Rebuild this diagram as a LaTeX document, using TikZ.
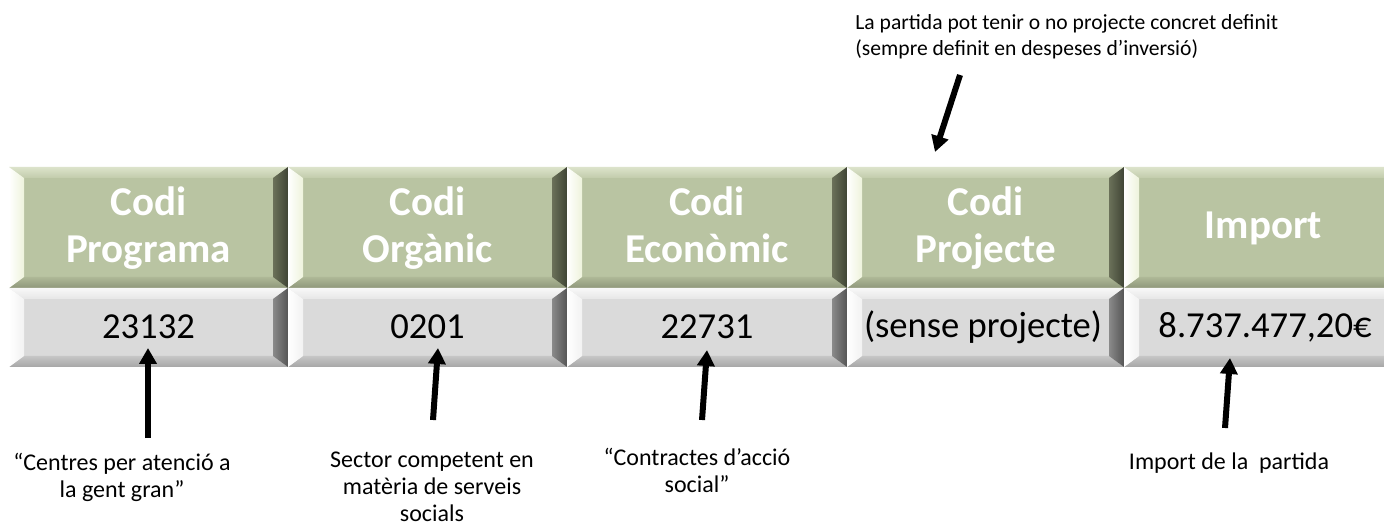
\documentclass[tikz,border=0pt]{standalone}
\usepackage{fontspec}
\setmainfont{Carlito}
\usetikzlibrary{arrows.meta}
% green scheme
\definecolor{gface}{HTML}{B9C4A2}
\definecolor{gtopA}{HTML}{DCE3CB}
\definecolor{gtopB}{HTML}{C2CCAB}
\definecolor{gbotA}{HTML}{AEB897}
\definecolor{gbotB}{HTML}{8F977A}
\definecolor{gleftA}{HTML}{FFFFFF}
\definecolor{gleftB}{HTML}{EEF3DC}
\definecolor{grightA}{HTML}{6B7159}
\definecolor{grightB}{HTML}{3F4435}
% silver scheme
\definecolor{sface}{HTML}{DADADA}
\definecolor{stopA}{HTML}{F8F8F8}
\definecolor{stopB}{HTML}{E6E6E6}
\definecolor{sbotA}{HTML}{C6C6C6}
\definecolor{sbotB}{HTML}{A6A6A6}
\definecolor{sleftA}{HTML}{FFFFFF}
\definecolor{sleftB}{HTML}{F2F2F2}
\definecolor{srightA}{HTML}{8A8A8A}
\definecolor{srightB}{HTML}{555555}
% bevelled box: x0, y0, x1, y1, scheme
\newcommand\mybevelbox[5]{%
  \pgfmathsetmacro\bvxa{#1+15}%
  \pgfmathsetmacro\bvxb{#3-15}%
  \pgfmathsetmacro\bvya{#2+11}%
  \pgfmathsetmacro\bvyb{#4-11}%
  \fill[#5face] (#1,#2) rectangle (#3,#4);
  \shade[top color=#5topA, bottom color=#5topB] (#1,#2) -- (#3,#2) -- (\bvxb,\bvya) -- (\bvxa,\bvya) -- cycle;
  \shade[top color=#5botA, bottom color=#5botB] (\bvxa,\bvyb) -- (\bvxb,\bvyb) -- (#3,#4) -- (#1,#4) -- cycle;
  \shade[left color=#5leftA, right color=#5leftB] (#1,#2) -- (\bvxa,\bvya) -- (\bvxa,\bvyb) -- (#1,#4) -- cycle;
  \shade[left color=#5rightA, right color=#5rightB] (\bvxb,\bvya) -- (#3,#2) -- (#3,#4) -- (\bvxb,\bvyb) -- cycle;
}
\begin{document}
\begin{tikzpicture}[x=0.5pt,y=-0.5pt,
  hdr/.style={text=white,font=\fontsize{20.5}{23.5}\selectfont\bfseries,align=center,inner sep=0},
  val/.style={text=black,font=\fontsize{18.3}{22}\selectfont,inner sep=0},
  note/.style={text=black,font=\fontsize{12}{13.5}\selectfont,align=center,inner sep=0},
  topnote/.style={text=black,font=\fontsize{10.8}{13}\selectfont,align=left,inner sep=0},
  arr/.style={line width=3pt,-{Triangle[length=8pt,width=8.5pt]}}]
\useasboundingbox (0,0) rectangle (1384,528);
\fill[white] (0,0) rectangle (1384,528);
\begin{scope}
\clip (0,0) rectangle (1384,528);
% header row
\mybevelbox{9}{167}{288}{288}{g}
\mybevelbox{288}{167}{567}{288}{g}
\mybevelbox{567}{167}{847}{288}{g}
\mybevelbox{847}{167}{1124}{288}{g}
\mybevelbox{1124}{167}{1403}{288}{g}
% value row
\mybevelbox{9}{288}{288}{367}{s}
\mybevelbox{288}{288}{567}{367}{s}
\mybevelbox{567}{288}{847}{367}{s}
\mybevelbox{847}{288}{1124}{367}{s}
\mybevelbox{1124}{288}{1403}{367}{s}
\end{scope}
% header texts
\node[hdr] (h1) at (148.5,228) {Codi\\Programa};
\node[hdr] (h2) at (427.5,228) {Codi\\Orgànic};
\node[hdr] (h3) at (707,228) {Codi\\Econòmic\vphantom{g}};
\node[hdr] (h4) at (985.5,228) {Codi\\Projecte};
\node[hdr] (h5) at (1263.5,228) {Import};
% values
\node[val] (v1) at (148.5,327) {23132};
\node[val] (v2) at (427.5,327) {0201};
\node[val] (v3) at (707,327) {22731};
\node[val] (v4) at (983,327) {(sense projecte)};
\node[val] (v5) at (1265,327) {8.737.477,20€};
% notes
\node[note] (n1) at (122,477) {“Centres per atenció a\\la gent gran”};
\node[note] (n2) at (432,487) {Sector competent en\\matèria de serveis\\socials};
\node[note] (n3) at (697,470) {“Contractes d’acció\\social”};
\node[topnote,anchor=west] (n4) at (855,37) {La partida pot tenir o no projecte concret definit\\(sempre definit en despeses d’inversió)};
\node[note] (n5) at (1229,463) {Import de la \ partida};
% arrow end points
\coordinate (s1) at (148,438); \coordinate (t1) at (148,348);
\coordinate (s2) at (433,420); \coordinate (t2) at (438,348);
\coordinate (s3) at (702,420); \coordinate (t3) at (707,350);
\coordinate (s4) at (960,75);  \coordinate (t4) at (935,152);
\coordinate (s5) at (1225,428); \coordinate (t5) at (1230,358);
\draw[arr] (s1) -- (t1);
\draw[arr] (s2) -- (t2);
\draw[arr] (s3) -- (t3);
\draw[arr] (s4) -- (t4);
\draw[arr] (s5) -- (t5);
\end{tikzpicture}
\end{document}
